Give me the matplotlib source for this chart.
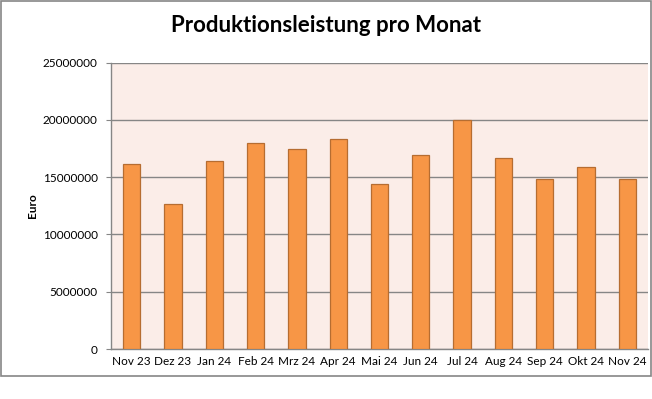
import matplotlib
matplotlib.use("Agg")
import matplotlib.pyplot as plt
import numpy as np
from matplotlib.patches import Rectangle

plt.rcParams['font.family'] = ['Lato', 'DejaVu Sans']

months = ["Nov 23", "Dez 23", "Jan 24", "Feb 24", "Mrz 24", "Apr 24", "Mai 24",
          "Jun 24", "Jul 24", "Aug 24", "Sep 24", "Okt 24", "Nov 24"]
leistung = [16100000, 12650000, 16400000, 17950000, 17450000, 18300000, 14400000,
            16900000, 20000000, 16650000, 14800000, 15850000, 14800000]
yticks = [0, 5000000, 10000000, 15000000, 20000000, 25000000]

GRID = "#868686"

fig = plt.figure(figsize=(6.52, 3.99), dpi=100)
# chart area border
fig.patches.append(Rectangle((0.001, 1 - 376 / 399), 0.997, 376 / 399 - 0.002,
                             transform=fig.transFigure, fill=False,
                             edgecolor=GRID, linewidth=1.2))

ax = fig.add_axes([111 / 652, 1 - 349 / 399, 537 / 652, 286.5 / 399])
ax.set_facecolor("#FBEDE8")

x = np.arange(len(months))
ax.bar(x, leistung, width=0.42, color="#F79646", edgecolor="#B66D31",
       linewidth=0.9, zorder=3)

ax.set_xlim(-0.5, len(months) - 0.5)
ax.set_ylim(0, 25000000)
ax.set_yticks(yticks)
ax.set_yticklabels([str(v) for v in yticks])
ax.set_xticks(x)
ax.set_xticklabels(months)
ax.yaxis.grid(True, color=GRID, linewidth=1.0, zorder=0)
ax.set_axisbelow(True)

for s in ["top", "right"]:
    ax.spines[s].set_visible(False)
for s in ["left", "bottom"]:
    ax.spines[s].set_color(GRID)
    ax.spines[s].set_linewidth(1.0)

ax.tick_params(axis="y", length=3.5, color=GRID, labelsize=8.5, pad=6)
ax.tick_params(axis="x", length=0, labelsize=8.5, pad=5)
ax.set_ylabel("Euro", fontsize=8.5, fontweight="bold")
ax.yaxis.set_label_coords(-0.136, 0.5)

fig.text(0.5, 1 - 25 / 399, "Produktionsleistung pro Monat", ha="center",
         va="center", fontsize=16, fontweight="bold")

fig.savefig("out.png", dpi=100)
